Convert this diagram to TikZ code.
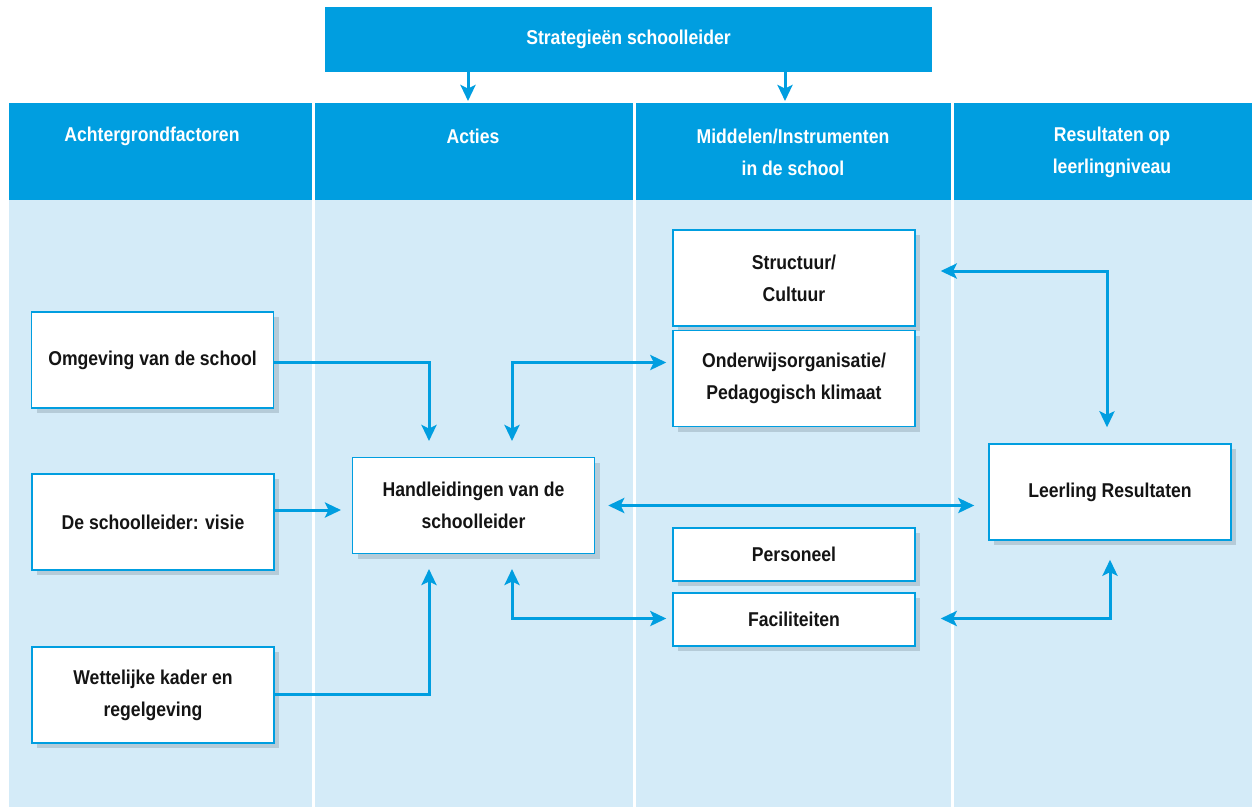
\documentclass[tikz,border=0pt]{standalone}
\usepackage{fontspec}
\setmainfont{Liberation Sans}[FakeStretch=0.88]
\usetikzlibrary{arrows.meta,shadows,calc}
\definecolor{hblue}{RGB}{0,158,224}
\definecolor{lblue}{RGB}{212,235,248}
\definecolor{sgray}{RGB}{110,130,145}
\definecolor{txt}{RGB}{20,20,20}
\tikzset{
  box/.style={draw=hblue, line width=1.4pt, fill=white, minimum width=242pt,
    minimum height=96pt, align=center, text=txt,
    font=\bfseries\fontsize{20}{32}\selectfont,
    drop shadow={shadow xshift=5pt, shadow yshift=-5pt, fill=sgray, opacity=0.3}},
  sbox/.style={box, minimum height=53pt},
  head/.style={align=center, text=white, font=\bfseries\fontsize{20}{32}\selectfont},
  arr/.style={draw=hblue, line width=3pt, -{Stealth[length=16pt,width=15pt,inset=3.5pt]}},
  darr/.style={draw=hblue, line width=3pt, {Stealth[length=16pt,width=15pt,inset=3.5pt]}-{Stealth[length=16pt,width=15pt,inset=3.5pt]}}
}
\begin{document}
\begin{tikzpicture}[x=1pt,y=-1pt]
\useasboundingbox[fill=white] (0,0) rectangle (1252,807);
% column bands
\fill[hblue] (9,103) rectangle (312,200);
\fill[hblue] (315,103) rectangle (633,200);
\fill[hblue] (636,103) rectangle (951,200);
\fill[hblue] (954,103) rectangle (1252,200);
\fill[lblue] (9,200) rectangle (312,807);
\fill[lblue] (315,200) rectangle (633,807);
\fill[lblue] (636,200) rectangle (951,807);
\fill[lblue] (954,200) rectangle (1252,807);
% top box
\node[fill=hblue, minimum width=607pt, minimum height=65pt, head] (strat) at (628.5,39.5) {Strategieën schoolleider};
% headers
\node[head] (h1) at (152,136) {Achtergrondfactoren};
\node[head] (h2) at (473,136) {Acties};
\node[head] (h3) at (793,152) {Middelen/Instrumenten\\in de school};
\node[head] (h4) at (1112,152) {Resultaten op\\leerlingniveau};
% boxes
\node[box] (omg) at (152.5,360) {Omgeving van de school};
\node[box] (vis) at (153,522) {De schoolleider: visie};
\node[box] (wet) at (153,695) {Wettelijke kader en\\regelgeving};
\node[box] (hand) at (473.5,505.5) {Handleidingen van de\\schoolleider};
\node[box] (struc) at (794,278) {Structuur/\\Cultuur};
\node[box] (ond) at (794,378.5) {Onderwijsorganisatie/\\Pedagogisch klimaat};
\node[sbox] (pers) at (794,554.5) {Personeel};
\node[sbox] (fac) at (794,619.5) {Faciliteiten};
\node[box] (leer) at (1110,492) {Leerling Resultaten};
% arrows from top
\coordinate (t1) at (468,101);
\coordinate (t2) at (785,101);
\draw[arr] (strat.south -| t1) -- (t1);
\draw[arr] (strat.south -| t2) -- (t2);
% left column to actions
\coordinate (e1) at (429,441);
\draw[arr] ($(omg.east)+(0,2)$) -| (e1);
\coordinate (e2) at (341,510);
\draw[arr] (vis.east |- e2) -- (e2);
\coordinate (e3) at (429,569);
\draw[arr] ($(wet.east)+(0,-1)$) -| (e3);
% actions to instruments
\coordinate (e4) at (512,441);
\draw[darr] (e4) |- ($(ond.west)+(-6,-16)$);
\coordinate (e5) at (512,569);
\draw[darr] (e5) |- ($(fac.west)+(-6,-1)$);
% handleidingen <-> leerling
\draw[darr] ($(hand.east)+(13,0)$) -- ($(leer.west |- hand.east)+(-14,0)$);
% instruments <-> leerling
\draw[darr] ($(struc.east)+(25,-7)$) -| ($(leer.north)+(-3,-16)$);
\draw[darr] ($(fac.east)+(25,-1)$) -| ($(leer.south)+(0,19)$);
\end{tikzpicture}
\end{document}
